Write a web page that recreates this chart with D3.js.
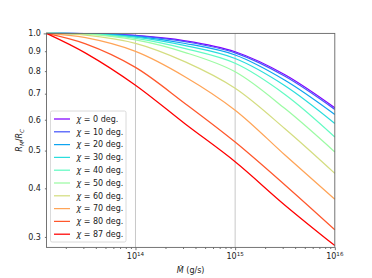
<!DOCTYPE html>
<html>
<head>
<meta charset="utf-8">
<script src="https://cdn.jsdelivr.net/npm/d3@7"></script>
<style>
  html, body { margin: 0; padding: 0; background: #fff; }
  svg { display: block; font-family: "DejaVu Sans", sans-serif; }
</style>
</head>
<body>
<div id="chart"></div>
<script>
// accretion rate (g/s) where the curves were read
const mdot = [1.28e13, 3.16e13, 1e14, 3.16e14, 1e15, 3.16e15, 1e16];
const chiDeg = [0, 10, 20, 30, 40, 50, 60, 70, 80, 87];

// R_M / R_C for each inclination
const rChi0 = [1, 0.999, 0.988, 0.957, 0.897, 0.783, 0.644];
const rChi10 = [1, 0.999, 0.987, 0.952, 0.891, 0.776, 0.638];
const rChi20 = [1, 0.999, 0.983, 0.942, 0.880, 0.758, 0.619];
const rChi30 = [1, 0.998, 0.978, 0.930, 0.862, 0.734, 0.587];
const rChi40 = [1, 0.997, 0.971, 0.914, 0.838, 0.697, 0.542];
const rChi50 = [1, 0.995, 0.962, 0.893, 0.797, 0.641, 0.496];
const rChi60 = [1, 0.990, 0.943, 0.845, 0.723, 0.569, 0.437];
const rChi70 = [1, 0.975, 0.899, 0.773, 0.635, 0.487, 0.375];
const rChi80 = [1, 0.940, 0.818, 0.660, 0.526, 0.408, 0.313];
const rChi87 = [1, 0.890, 0.736, 0.585, 0.468, 0.362, 0.285];
const series = [rChi0, rChi10, rChi20, rChi30, rChi40, rChi50, rChi60, rChi70, rChi80, rChi87];

const yTickVals = [0.3, 0.4, 0.5, 0.6, 0.7, 0.8, 0.9, 1.0];
const xMajor = [1e14, 1e15, 1e16];

const W = 372, H = 278;
const pLeft = 46.5, pRight = 334.8, pTop = 33.4, pBottom = 247.4;

// matplotlib "rainbow" colormap
function rainbow(t) {
    let r = Math.min(1, Math.abs(2 * t - 0.5));
    let g = Math.sin(Math.PI * t);
    let b = Math.cos(Math.PI / 2 * t);
    return d3.rgb(r * 255, g * 255, b * 255).formatHex();
}

let x = d3.scaleLog().domain([1.28e13, 1e16]).range([pLeft, pRight]);
let y = d3.scaleLog().domain([0.282, 1.0]).range([pBottom, pTop]);

let svg = d3.select('#chart').append('svg')
    .attr('width', W)
    .attr('height', H);

// vertical grid
svg.append('g').selectAll('line').data(xMajor.slice(0, 2)).enter()
    .append('line')
    .attr('x1', d => x(d)).attr('x2', d => x(d))
    .attr('y1', pTop).attr('y2', pBottom)
    .attr('stroke', '#c8c8c8')
    .attr('stroke-width', 1);

let line = d3.line()
    .x(d => x(d[0]))
    .y(d => y(d[1]))
    .curve(d3.curveCatmullRom);

let plot = svg.append('g');
series.forEach((vals, i) => {
    let pts = mdot.map((m, j) => [m, vals[j]]);
    plot.append('path')
        .attr('d', line(pts))
        .attr('fill', 'none')
        .attr('stroke', rainbow(i / (series.length - 1)))
        .attr('stroke-width', 1.25);
});

// x axis ticks
let xMinor = [];
[1e13, 1e14, 1e15].forEach(dec => {
    for (let k = 2; k <= 9; k++) {
        let v = k * dec;
        if (v > 1.28e13 && v < 1e16) xMinor.push(v);
    }
});
let axX = svg.append('g').attr('transform', `translate(0,${pBottom})`);
axX.call(d3.axisBottom(x).tickValues(xMinor).tickSize(1.6).tickFormat(''));
axX.append('g').call(d3.axisBottom(x).tickValues(xMajor).tickSize(2.8).tickFormat(''));
axX.selectAll('.domain').remove();
axX.selectAll('line').attr('stroke', '#333').attr('stroke-width', 0.7);

let xl = svg.append('g').selectAll('text').data(xMajor).enter()
    .append('text')
    .attr('x', d => x(d))
    .attr('y', 259)
    .attr('text-anchor', 'middle')
    .attr('font-size', 8)
    .attr('fill', '#222');
xl.append('tspan').text('10');
xl.append('tspan').attr('dy', -3.5).attr('font-size', 5.6)
    .text(d => String(Math.round(Math.log10(d))));

// y axis ticks
let axY = svg.append('g').attr('transform', `translate(${pLeft},0)`);
axY.call(d3.axisLeft(y).tickValues(yTickVals.slice(0, -1)).tickSize(1.6).tickFormat(''));
axY.append('g').call(d3.axisLeft(y).tickValues([1.0]).tickSize(2.8).tickFormat(''));
axY.selectAll('.domain').remove();
axY.selectAll('line').attr('stroke', '#333').attr('stroke-width', 0.7);

svg.append('g').selectAll('text').data(yTickVals).enter()
    .append('text')
    .attr('x', pLeft - 5.6)
    .attr('y', d => y(d))
    .attr('dy', '0.35em')
    .attr('text-anchor', 'end')
    .attr('font-size', 8)
    .attr('fill', '#222')
    .text(d => d.toFixed(1));

// frame
svg.append('rect')
    .attr('x', pLeft).attr('y', pTop)
    .attr('width', pRight - pLeft).attr('height', pBottom - pTop)
    .attr('fill', 'none')
    .attr('stroke', '#666')
    .attr('stroke-width', 0.9);

// axis labels
let xlab = svg.append('text')
    .attr('x', (pLeft + pRight) / 2)
    .attr('y', 273)
    .attr('text-anchor', 'middle')
    .attr('font-size', 8)
    .attr('fill', '#222');
xlab.append('tspan').attr('font-style', 'italic').text('Ṁ');
xlab.append('tspan').text(' (g/s)');

let ylab = svg.append('text')
    .attr('transform', `translate(22,${(pTop + pBottom) / 2}) rotate(-90)`)
    .attr('text-anchor', 'middle')
    .attr('font-size', 8)
    .attr('fill', '#222');
ylab.append('tspan').attr('font-style', 'italic').text('R');
ylab.append('tspan').attr('font-style', 'italic').attr('font-size', 5.6).attr('dy', 1.6).text('M');
ylab.append('tspan').attr('dy', -1.6).text('/');
ylab.append('tspan').attr('font-style', 'italic').text('R');
ylab.append('tspan').attr('font-style', 'italic').attr('font-size', 5.6).attr('dy', 1.6).text('C');

// legend
const legX = 50.5, legTop = 111, legW = 75.5, rowH = 12.8;
let legH = rowH * chiDeg.length + 3;
svg.append('rect')
    .attr('x', legX).attr('y', legTop)
    .attr('width', legW).attr('height', legH)
    .attr('rx', 1.6)
    .attr('fill', 'white').attr('fill-opacity', 0.8)
    .attr('stroke', '#d0d0d0').attr('stroke-width', 0.8);

let rows = svg.append('g').selectAll('g').data(chiDeg).enter()
    .append('g')
    .attr('transform', (d, i) => `translate(${legX},${legTop + 8 + i * rowH})`);
rows.append('line')
    .attr('x1', 3.5).attr('x2', 19.5)
    .attr('stroke', (d, i) => rainbow(i / (chiDeg.length - 1)))
    .attr('stroke-width', 1.25);
let lt = rows.append('text')
    .attr('x', 26)
    .attr('dy', '0.35em')
    .attr('font-size', 8)
    .attr('fill', '#222');
lt.append('tspan').attr('font-style', 'italic').text('χ');
lt.append('tspan').text(d => ' = ' + d + ' deg.');
</script>
</body>
</html>
